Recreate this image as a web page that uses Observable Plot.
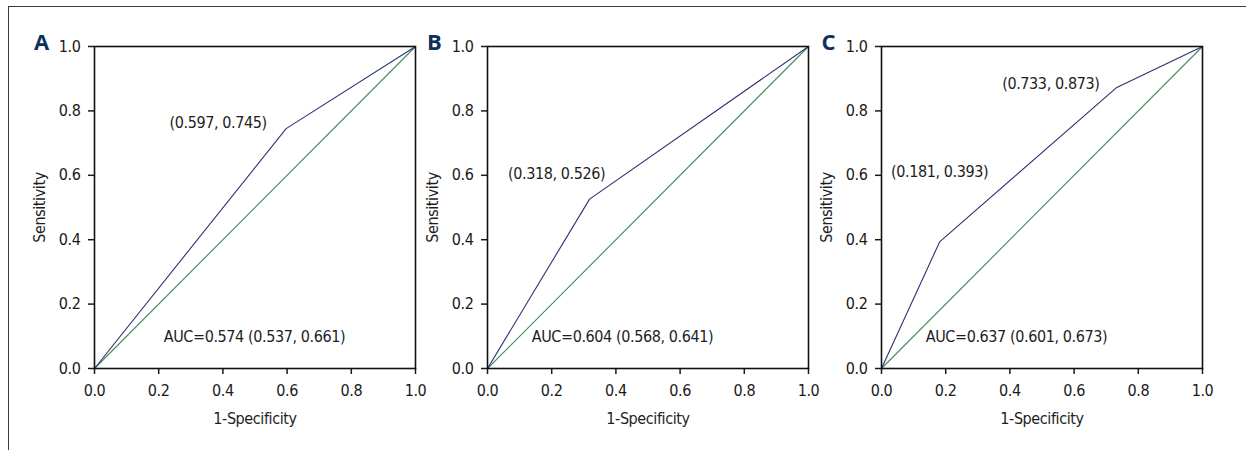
<!DOCTYPE html>
<html><head><meta charset="utf-8">
<script src="https://cdn.jsdelivr.net/npm/d3@7"></script>
<script src="https://cdn.jsdelivr.net/npm/@observablehq/plot@0.6"></script>
<style>
html,body{margin:0;padding:0;background:#fff;}
#fig{position:relative;width:1246px;height:450px;overflow:hidden;background:#fff;}
#border{position:absolute;left:8px;top:6px;width:1240px;height:450px;border-top:1.5px solid #3a3a3a;border-left:1.5px solid #3a3a3a;}
.panel{position:absolute;}
.panel svg{overflow:visible;}
.panel svg text{font-stretch:condensed;letter-spacing:-0.4px;}
.panel svg g[font-weight="bold"] text{font-stretch:normal;letter-spacing:0;}
</style></head><body>
<div id="fig"><div id="border"></div></div>
<script>
// ---- data ----
const panelLetters = ["A", "B", "C"];
const rocA_fpr = [0, 0.597, 1];
const rocA_tpr = [0, 0.745, 1];
const rocB_fpr = [0, 0.318, 1];
const rocB_tpr = [0, 0.526, 1];
const rocC_fpr = [0, 0.181, 0.733, 1];
const rocC_tpr = [0, 0.393, 0.873, 1];
const aucLabels = ["AUC=0.574 (0.537, 0.661)", "AUC=0.604 (0.568, 0.641)", "AUC=0.637 (0.601, 0.673)"];
const tickValues = [0, 0.2, 0.4, 0.6, 0.8, 1.0];
const xLabel = "1-Specificity";
const yLabel = "Sensitivity";

// ---- layout / style ----
const W = 321, H = 322, mL = 70, mR = 6, mT = 20, mB = 70;
const panelLeft = [94, 487, 881];
const panelTop = 46;
const cutoffOffsets = [[[-68, -6]], [[-33, -25]], [[0, -70], [-66, -4]]];
const aucDx = [160, 135, 135];
const navy = "#2d3170", green = "#3e8c5e", letterColor = "#0f2f5f";
const font = "'Liberation Sans Narrow', 'DejaVu Sans Condensed', 'Arial Narrow', sans-serif";
const fs = 16;

const rocs = [[rocA_fpr, rocA_tpr], [rocB_fpr, rocB_tpr], [rocC_fpr, rocC_tpr]];
const fmt = d3.format(".1f");
const fig = document.getElementById("fig");

rocs.forEach(([fpr, tpr], i) => {
  const pts = fpr.map((x, j) => ({x, y: tpr[j]}));
  const cut = pts.slice(1, -1).map((p, k) => ({
    ...p,
    label: `(${p.x.toFixed(3)}, ${p.y.toFixed(3)})`,
    dx: cutoffOffsets[i][k][0],
    dy: cutoffOffsets[i][k][1]
  }));
  const txt = {fill: "#1e1e1e", fontSize: fs, fontFamily: font};
  const marks = [
    Plot.axisX({ticks: tickValues, tickFormat: fmt, tickSize: 6, tickPadding: 10, label: null, strokeWidth: 1.5, fontSize: fs, fontFamily: font}),
    Plot.axisY({ticks: tickValues, tickFormat: fmt, tickSize: 6, tickPadding: 8, label: null, strokeWidth: 1.5, fontSize: fs, fontFamily: font}),
    Plot.line([{x: 0, y: 0}, {x: 1, y: 1}], {x: "x", y: "y", stroke: green, strokeWidth: 1.1}),
    Plot.line(pts, {x: "x", y: "y", stroke: navy, strokeWidth: 1.1}),
    Plot.frame({stroke: "#111", strokeWidth: 1.6}),
    Plot.text([aucLabels[i]], {...txt, frameAnchor: "bottom-left", dx: aucDx[i], dy: -32, textAnchor: "middle", lineAnchor: "middle"}),
    Plot.text([xLabel], {...txt, frameAnchor: "bottom", dy: 50, textAnchor: "middle", lineAnchor: "middle"}),
    Plot.text([yLabel], {...txt, frameAnchor: "left", dx: -55, rotate: -90, textAnchor: "middle", lineAnchor: "middle"}),
    Plot.text([panelLetters[i]], {frameAnchor: "top-left", dx: -53, dy: -4, textAnchor: "middle", lineAnchor: "middle", fontWeight: "bold", fontSize: 22, fill: letterColor, fontFamily: "'Open Sans', 'Liberation Sans', sans-serif"})
  ];
  cut.forEach(c => marks.push(Plot.text([c], {...txt, x: "x", y: "y", text: "label", dx: c.dx, dy: c.dy, textAnchor: "middle"})));
  const chart = Plot.plot({
    width: mL + W + mR,
    height: mT + H + mB,
    marginLeft: mL, marginRight: mR, marginTop: mT, marginBottom: mB,
    x: {domain: [0, 1]},
    y: {domain: [0, 1]},
    style: {fontFamily: font, fontSize: fs + "px", color: "#1a1a1a", background: "transparent", overflow: "visible"},
    marks
  });
  const wrap = document.createElement("div");
  wrap.className = "panel";
  wrap.style.left = (panelLeft[i] - mL) + "px";
  wrap.style.top = (panelTop - mT) + "px";
  wrap.appendChild(chart);
  fig.appendChild(wrap);
});
</script>
</body></html>
